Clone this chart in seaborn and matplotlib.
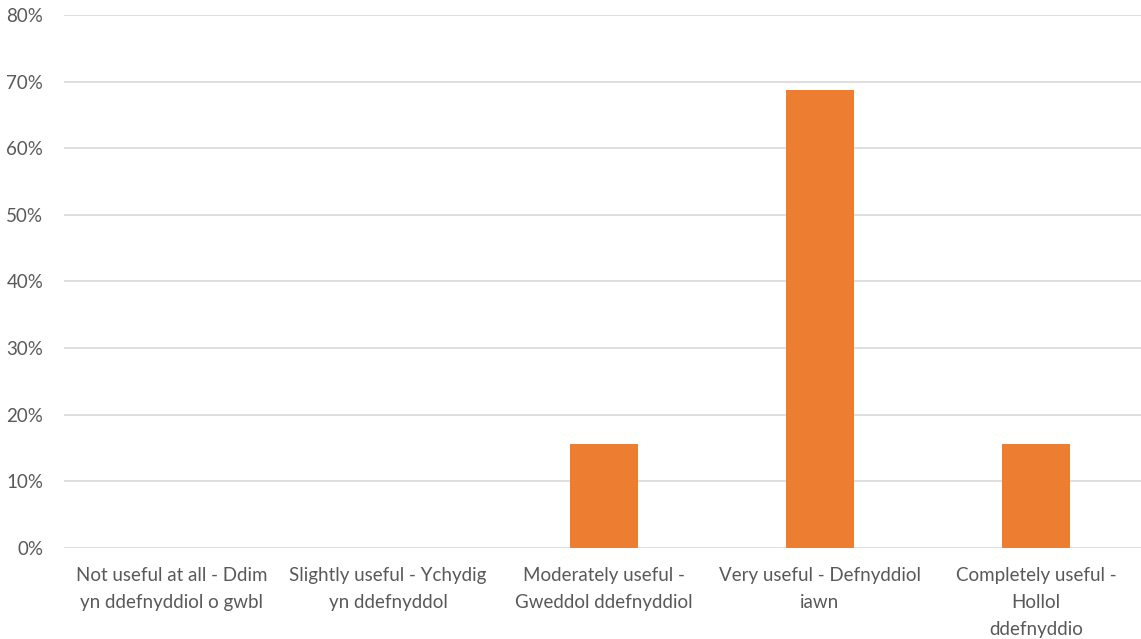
import matplotlib
matplotlib.use("Agg")
import matplotlib.pyplot as plt
import seaborn as sns
import pandas as pd

categories = [
    "Not useful at all - Ddim\nyn ddefnyddiol o gwbl",
    "Slightly useful - Ychydig\nyn ddefnyddol",
    "Moderately useful -\nGweddol ddefnyddiol",
    "Very useful - Defnyddiol\niawn",
    "Completely useful -\nHollol\nddefnyddio",
]
shares = [0.0, 0.0, 0.15625, 0.6875, 0.15625]
y_ticks = [0.0, 0.1, 0.2, 0.3, 0.4, 0.5, 0.6, 0.7, 0.8]
y_tick_labels = ["0%", "10%", "20%", "30%", "40%", "50%", "60%", "70%", "80%"]

sns.set_theme(style="white")
plt.rcParams["font.family"] = ["Lato", "DejaVu Sans"]

W, H = 1141, 639
fig = plt.figure(figsize=(W / 100, H / 100), dpi=100)
ax = fig.add_axes([64 / W, (H - 548) / H, 1080 / W, (548 - 15) / H])

df = pd.DataFrame({"category": categories, "share": shares})
sns.barplot(data=df, x="category", y="share", color="#ED7D31", saturation=1,
            width=0.315, ax=ax, linewidth=0)

ax.set_ylim(0, 0.8)
ax.set_xlim(-0.5, 4.5)
ax.set_yticks(y_ticks)
ax.set_yticklabels(y_tick_labels, fontsize=13.5, color="#595959")
ax.set_xticks(range(len(categories)))
ax.set_xticklabels(categories, fontsize=13.5, color="#595959", linespacing=1.7)
ax.tick_params(axis="both", length=0)
ax.tick_params(axis="y", pad=15)
ax.tick_params(axis="x", pad=14)
ax.set_xlabel("")
ax.set_ylabel("")

ax.yaxis.grid(True, color="#D9D9D9", linewidth=1.2)
ax.set_axisbelow(True)
for s in ax.spines.values():
    s.set_visible(False)

fig.savefig("out.png", dpi=100)
